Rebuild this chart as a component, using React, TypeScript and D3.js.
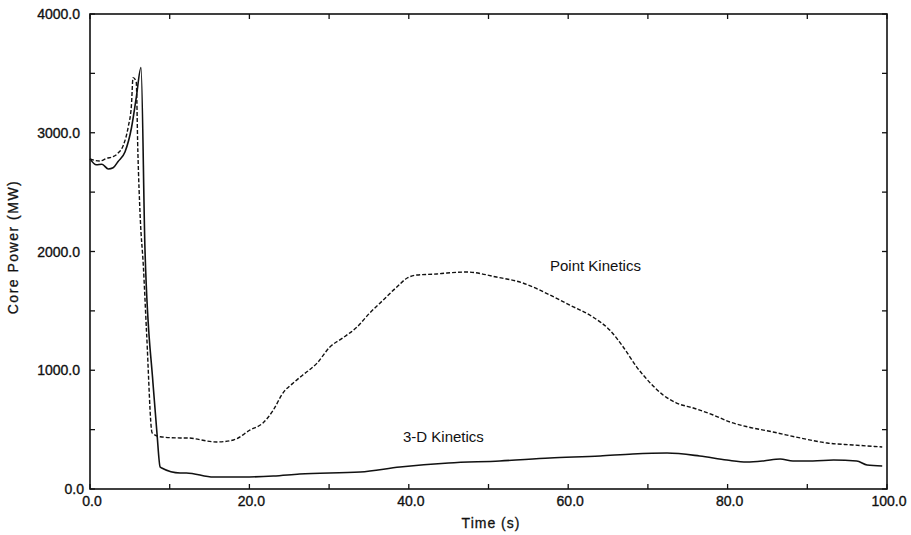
import * as d3 from 'd3';
import React, { useEffect, useRef } from 'react';

// 3-D kinetics (solid)
const solidTime = [0, 0.8, 1.5, 2.3, 2.9, 3.5, 4.4, 5.2, 5.8, 6.4, 6.9, 7.9, 8.4, 8.8, 9.0, 11.3, 12.1, 15.5, 19.2, 23, 26.3, 33.9, 38.9, 45, 51.4, 57.7, 64, 68.1, 72.4, 76.5, 79.9, 82.4, 84.5, 86.6, 88.2, 90.7, 93.3, 96.2, 97.5, 99.4];
const solidPower = [2780, 2730, 2735, 2695, 2705, 2756, 2840, 3040, 3293, 3550, 2013, 893, 472, 185, 177, 135, 135, 101, 101, 109, 126, 143, 185, 219, 236, 261, 278, 295, 303, 278, 244, 227, 236, 253, 236, 236, 244, 236, 202, 194];

// point kinetics (dashed)
const dashTime = [0, 1.2, 2.1, 2.9, 3.5, 4.2, 4.8, 5.2, 5.4, 5.8, 6.0, 6.3, 6.7, 7.1, 7.8, 8.8, 11.3, 12.1, 15.9, 18, 20.1, 21.7, 23, 24.2, 25.5, 26.7, 28.5, 30.1, 31.7, 33.5, 35.1, 36.8, 38.5, 39.8, 41, 43.5, 44.8, 47.3, 51, 54.3, 57.7, 60.2, 63.1, 65.2, 66.9, 68.6, 70.3, 71.9, 73.6, 75.7, 78.2, 80.3, 82.6, 85.7, 89.1, 92.5, 95.7, 99.4];
const dashPower = [2779, 2762, 2785, 2798, 2827, 2897, 3051, 3234, 3464, 3430, 2855, 2290, 1870, 1314, 472, 440, 430, 430, 396, 413, 497, 556, 665, 808, 893, 960, 1061, 1196, 1271, 1364, 1482, 1592, 1701, 1777, 1802, 1811, 1819, 1827, 1785, 1735, 1634, 1549, 1448, 1339, 1196, 1027, 893, 792, 724, 682, 623, 564, 522, 480, 430, 387, 371, 354];

const xTickLabels = [0, 20, 40, 60, 80, 100];
const yTickLabels = [0, 1000, 2000, 3000, 4000];

export default function App() {
  const ref = useRef<SVGSVGElement>(null);

  useEffect(() => {
    const width = 911;
    const height = 535;
    const margin = { top: 14, right: 24, bottom: 46, left: 90 };
    const font = 'Arial, "Liberation Sans", Helvetica, sans-serif';

    const svg = d3.select(ref.current);
    svg.selectAll('*').remove();

    const x = d3.scaleLinear().domain([0, 100]).range([margin.left, width - margin.right]);
    const y = d3.scaleLinear().domain([0, 4000]).range([height - margin.bottom, margin.top]);

    const tickLen = 5;
    const xTicks = d3.range(0, 101, 10);
    const yTicks = d3.range(0, 4001, 500);
    const g = svg.append('g').attr('stroke', '#111').attr('fill', 'none');

    // frame
    g.append('rect')
      .attr('x', x(0)).attr('y', y(4000))
      .attr('width', x(100) - x(0)).attr('height', y(0) - y(4000))
      .attr('stroke-width', 1.6);

    // inward ticks on all sides
    xTicks.forEach((t) => {
      g.append('line').attr('x1', x(t)).attr('x2', x(t)).attr('y1', y(0)).attr('y2', y(0) - tickLen).attr('stroke-width', 1.3);
      g.append('line').attr('x1', x(t)).attr('x2', x(t)).attr('y1', y(4000)).attr('y2', y(4000) + tickLen).attr('stroke-width', 1.3);
    });
    yTicks.forEach((v) => {
      g.append('line').attr('x1', x(0)).attr('x2', x(0) + tickLen).attr('y1', y(v)).attr('y2', y(v)).attr('stroke-width', 1.3);
      g.append('line').attr('x1', x(100)).attr('x2', x(100) - tickLen).attr('y1', y(v)).attr('y2', y(v)).attr('stroke-width', 1.3);
    });

    // tick labels
    svg.append('g').selectAll('text').data(xTickLabels).enter().append('text')
      .attr('x', (d) => x(d) + 2)
      .attr('y', y(0) + 17)
      .attr('text-anchor', 'middle')
      .attr('font-family', font).attr('font-size', 14).attr('fill', '#111')
      .attr('stroke', '#111').attr('stroke-width', 0.35)
      .text((d) => d.toFixed(1));

    svg.append('g').selectAll('text').data(yTickLabels).enter().append('text')
      .attr('x', (d) => (d === 0 ? 84 : 80))
      .attr('y', (d) => y(d) + 5)
      .attr('text-anchor', 'end')
      .attr('font-family', font).attr('font-size', 14).attr('fill', '#111')
      .attr('stroke', '#111').attr('stroke-width', 0.35)
      .text((d) => d.toFixed(1));

    // axis titles
    svg.append('text')
      .attr('x', 491).attr('y', 528)
      .attr('text-anchor', 'middle')
      .attr('font-family', font).attr('font-size', 14).attr('fill', '#111')
      .attr('letter-spacing', 1)
      .attr('stroke', '#111').attr('stroke-width', 0.3)
      .text('Time (s)');

    svg.append('text')
      .attr('transform', `translate(18,247) rotate(-90)`)
      .attr('text-anchor', 'middle')
      .attr('font-family', font).attr('font-size', 14).attr('fill', '#111')
      .attr('letter-spacing', 1.5)
      .attr('stroke', '#111').attr('stroke-width', 0.3)
      .text('Core Power (MW)');

    const line = d3.line<[number, number]>()
      .x((d) => x(d[0]))
      .y((d) => y(d[1]))
      .curve(d3.curveMonotoneX);

    const solid: [number, number][] = solidTime.map((t, i) => [t, solidPower[i]]);
    const dashed: [number, number][] = dashTime.map((t, i) => [t, dashPower[i]]);

    svg.append('path')
      .attr('d', line(dashed))
      .attr('fill', 'none').attr('stroke', '#111')
      .attr('stroke-width', 1.4).attr('stroke-dasharray', '4,2');

    svg.append('path')
      .attr('d', line(solid))
      .attr('fill', 'none').attr('stroke', '#111')
      .attr('stroke-width', 1.6);

    // annotations
    svg.append('text')
      .attr('x', 550).attr('y', 271)
      .attr('font-family', font).attr('font-size', 15).attr('fill', '#111')
      .text('Point Kinetics');

    svg.append('text')
      .attr('x', 403).attr('y', 442)
      .attr('font-family', font).attr('font-size', 15).attr('fill', '#111')
      .text('3-D Kinetics');
  }, []);

  return (
    <svg
      ref={ref}
      width={911}
      height={535}
      style={{ position: 'absolute', left: 0, top: 0, background: '#fff' }}
    />
  );
}
